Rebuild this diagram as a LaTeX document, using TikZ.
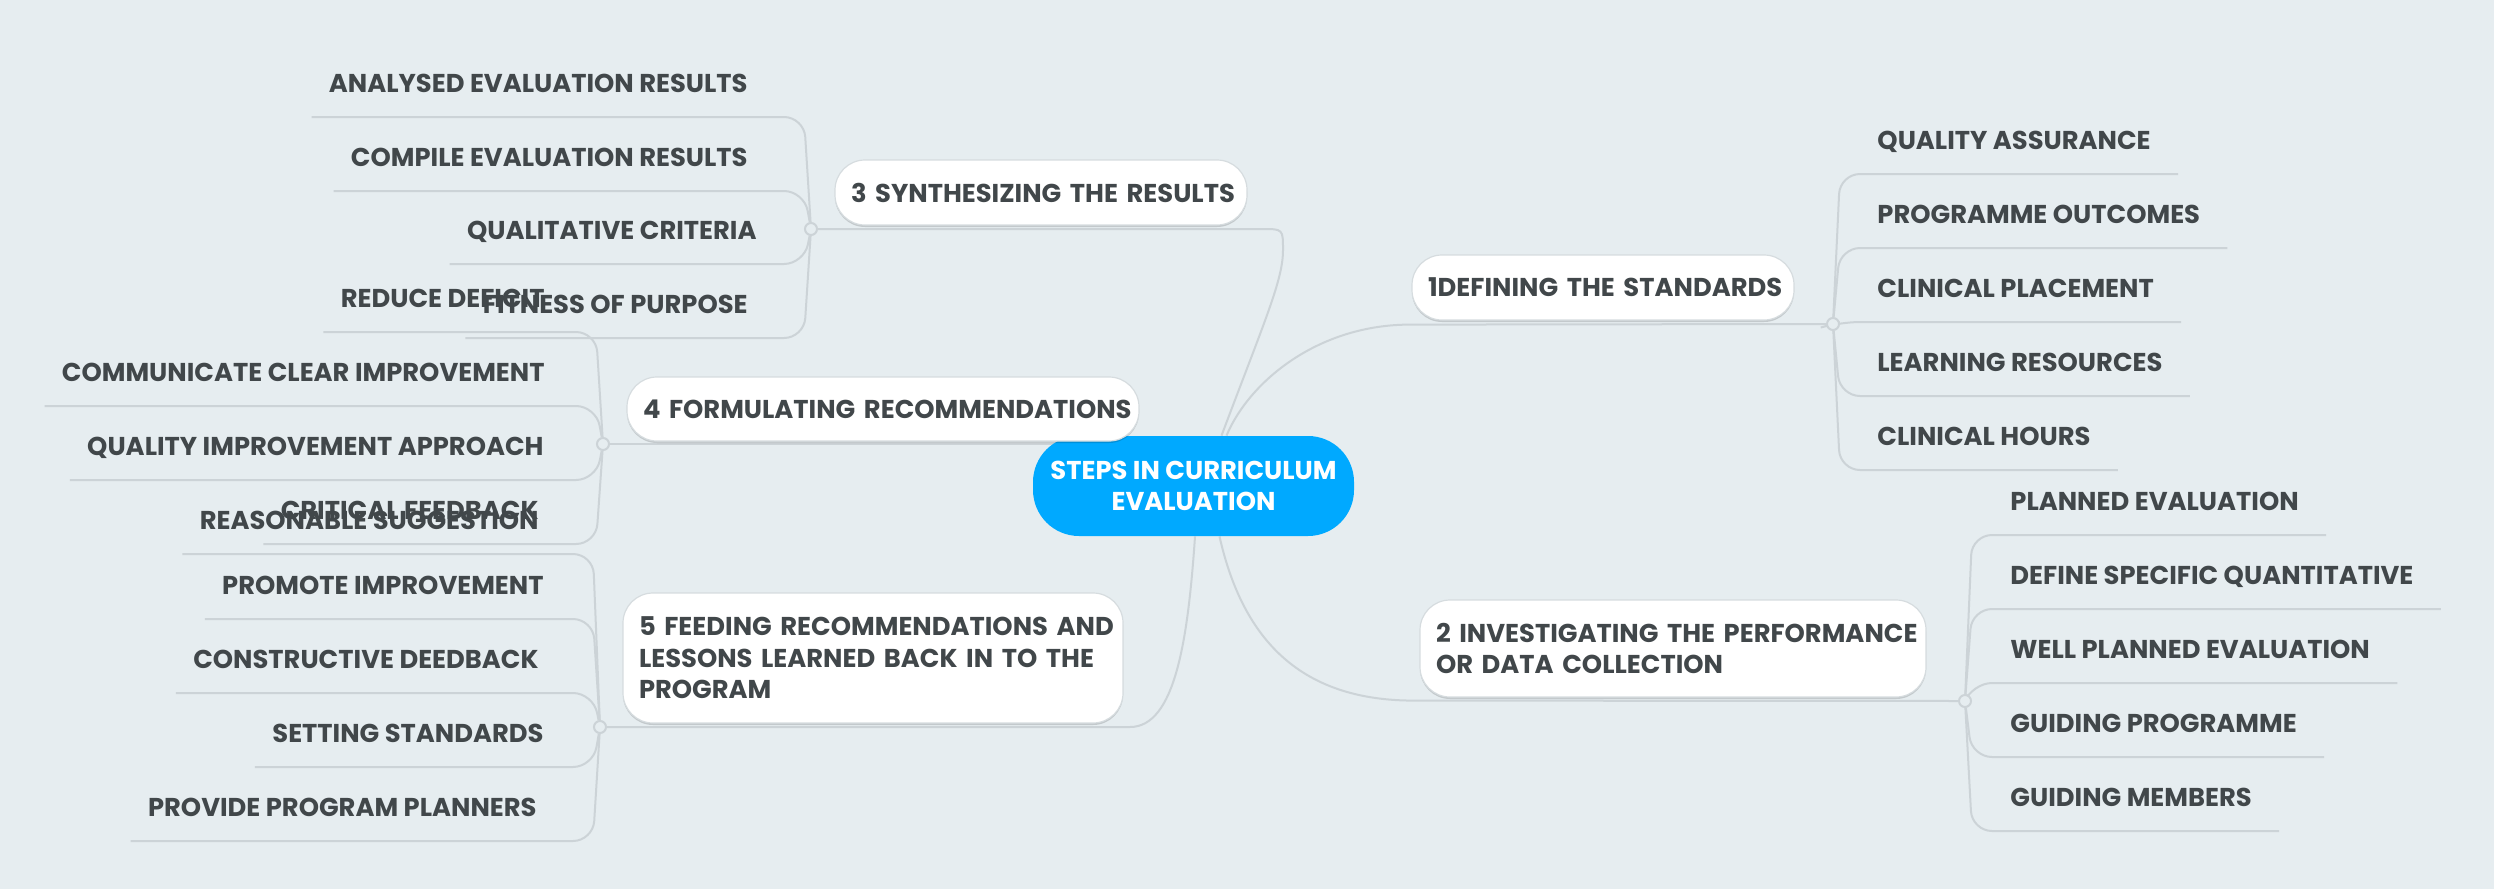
\documentclass[tikz,border=0pt]{standalone}
\usepackage{fontspec}
\setmainfont{Poppins}
\usepackage{xcolor}
\usetikzlibrary{calc, shadows}
\definecolor{paper}{RGB}{230,237,240}
\definecolor{ink}{RGB}{65,71,74}
\definecolor{twig}{RGB}{204,211,215}
\definecolor{rim}{RGB}{214,220,223}
\definecolor{hubblue}{RGB}{0,169,255}
\newcommand{\mapfont}{\bfseries\fontsize{12.9}{15.75}\selectfont}
\pgfdeclarelayer{paperlayer}
\pgfdeclarelayer{wires}
\pgfsetlayers{paperlayer,wires,main}
\tikzset{
  hub/.style={fill=hubblue, text=white, rounded corners=23pt, minimum width=160.5pt, minimum height=50pt, inner sep=0pt, align=center, font=\mapfont},
  stepbox/.style={fill=white, draw=rim, line width=0.6pt, rounded corners=15pt, inner xsep=8pt, inner ysep=0pt, align=left, text=ink, font=\mapfont, drop shadow={shadow xshift=0pt, shadow yshift=-1pt, opacity=0.15, fill=black}},
  leaf/.style={text=ink, inner sep=0pt, font=\mapfont},
  knot/.style={circle, draw=twig, fill=paper, line width=1pt, minimum size=6pt, inner sep=0pt},
}
\tikzstyle{wire} = [draw=twig, line width=1pt]
\tikzstyle{twigwire} = [wire, rounded corners=10pt]

\begin{document}
\begin{tikzpicture}[x=0.5pt, y=-0.5pt]
            \useasboundingbox (0,0) rectangle (2494,889);
            \begin{pgfonlayer}{paperlayer}
                \fill[paper] (0,0) rectangle (2494,889);
            \end{pgfonlayer}

            \node[hub] (hub) at (1193.5,486) {STEPS IN CURRICULUM\\EVALUATION};
            \node[stepbox, text width=175pt, minimum height=32.5pt] (b1) at (1603,287.5) {\mbox{1DEFINING THE STANDARDS}};
            \node[stepbox, text width=237pt, minimum height=48.5pt] (b2) at (1673,648.5) {\mbox{2 INVESTIGATING THE PERFORMANCE}\\\mbox{OR DATA COLLECTION}};
            \node[stepbox, text width=190pt, minimum height=32.5pt] (b3) at (1041,192.5) {\mbox{3 SYNTHESIZING THE RESULTS}};
            \node[stepbox, text width=240pt, minimum height=32pt] (b4) at (883,409) {\mbox{4 FORMULATING RECOMMENDATIONS}};
            \node[stepbox, text width=234pt, minimum height=65pt] (b5) at (873,658) {\mbox{5 FEEDING RECOMMENDATIONS AND}\\\mbox{LESSONS LEARNED BACK IN TO THE}\\\mbox{PROGRAM}};

            \node[knot] (j1) at (1833,324) {};
            \node[knot] (j2) at (1965,701) {};
            \node[knot] (j3) at (811,229) {};
            \node[knot] (j4) at (603,444) {};
            \node[knot] (j5) at (600,727) {};

            \begin{pgfonlayer}{wires}
                \draw[wire] ($(hub.north)+(33,0)$) .. controls (1250,380) and (1320,324) .. ($(b1.south west)+(0,4)$) -- (j1);
                \draw[wire] ($(hub.south)+(26,0)$) .. controls (1245,650) and (1310,700) .. ($(b2.south west)+(-7,3)$) -- (j2);
                \draw[wire] ($(hub.north)+(28,0)$) .. controls (1265,320) and (1283,280) .. (1283,250) .. controls (1283,229) .. (1262,229) -- (j3);
                \draw[wire] (hub.center) |- (j4);
                \draw[wire] ($(hub.south)+(1.5,0)$) .. controls (1188,640) and (1175,727) .. (1130,727) -- (j5);
            \end{pgfonlayer}

            % right side
            \foreach \id/\yb/\txt in {qa/149/QUALITY ASSURANCE, po/223/PROGRAMME OUTCOMES, cp/297/CLINICAL PLACEMENT, lr/371/LEARNING RESOURCES, ch/445/CLINICAL HOURS}{
                \node[leaf, anchor=base west] (\id) at (1877,\yb) {\txt};
                \begin{pgfonlayer}{wires}
                    \draw[twigwire] (j1) -- ($(j1 |- \id.base)+(7,25)$) -- ($(\id.base east)+(27,25)$);
                \end{pgfonlayer}
            }
            \foreach \id/\yb/\txt in {pe/510/PLANNED EVALUATION, ds/584/DEFINE SPECIFIC QUANTITATIVE, wp/658/WELL PLANNED EVALUATION, gp/732/GUIDING PROGRAMME, gm/806/GUIDING MEMBERS}{
                \node[leaf, anchor=base west] (\id) at (2010,\yb) {\txt};
                \begin{pgfonlayer}{wires}
                    \draw[twigwire] (j2) -- ($(j2 |- \id.base)+(7,25)$) -- ($(\id.base east)+(27,25)$);
                \end{pgfonlayer}
            }

            % left side
            \foreach \id/\xr/\yb/\txt in {ae/748/92/ANALYSED EVALUATION RESULTS, ce/748/166/COMPILE EVALUATION RESULTS, qc/757/239/QUALITATIVE CRITERIA, fp/748/313/FITNESS OF PURPOSE}{
                \node[leaf, anchor=base east] (\id) at (\xr,\yb) {\txt};
                \begin{pgfonlayer}{wires}
                    \draw[twigwire] (j3) -- ($(j3 |- \id.base)+(-7,25)$) -- ($(\id.base west)+(-17,25)$);
                \end{pgfonlayer}
            }
            \foreach \id/\xr/\yb/\txt in {rd/545/307/REDUCE DEFICIT, cc/545/381/COMMUNICATE CLEAR IMPROVEMENT, qi/544/455/QUALITY IMPROVEMENT APPROACH, cf/539/519/CRITICAL FEEDBACK}{
                \node[leaf, anchor=base east] (\id) at (\xr,\yb) {\txt};
                \begin{pgfonlayer}{wires}
                    \draw[twigwire] (j4) -- ($(j4 |- \id.base)+(-7,25)$) -- ($(\id.base west)+(-17,25)$);
                \end{pgfonlayer}
            }
            \foreach \id/\xr/\yb/\txt in {rs/539/529/REASONABLE SUGGESTION, pi/544/594/PROMOTE IMPROVEMENT, cd/539/668/CONSTRUCTIVE DEEDBACK, ss/544/742/SETTING STANDARDS, pp/537/816/PROVIDE PROGRAM PLANNERS}{
                \node[leaf, anchor=base east] (\id) at (\xr,\yb) {\txt};
                \begin{pgfonlayer}{wires}
                    \draw[twigwire] (j5) -- ($(j5 |- \id.base)+(-7,25)$) -- ($(\id.base west)+(-17,25)$);
                \end{pgfonlayer}
            }
\end{tikzpicture}
\end{document}
